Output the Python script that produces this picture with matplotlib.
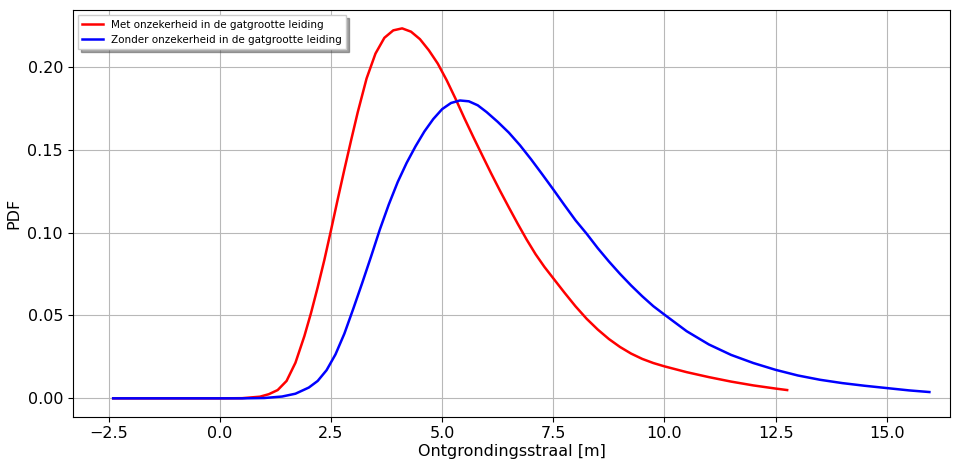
import numpy as np
from matplotlib import pyplot as plt

# values
x_met = [-2.4, -1.0, 0.0, 0.5, 0.9, 1.1, 1.3, 1.5, 1.7, 1.9, 2.05, 2.2, 2.35, 2.5,
         2.65, 2.8, 2.95, 3.1, 3.3, 3.5, 3.7, 3.9, 4.1, 4.3, 4.5, 4.7, 4.9, 5.1,
         5.3, 5.5, 5.7, 5.9, 6.1, 6.3, 6.5, 6.7, 6.9, 7.1, 7.3, 7.5, 7.75, 8.0,
         8.25, 8.5, 8.75, 9.0, 9.25, 9.5, 9.75, 10.0, 10.5, 11.0, 11.5, 12.0,
         12.5, 12.76]
y_met = [0.0, 0.0, 0.0, 0.0001, 0.001, 0.0025, 0.005, 0.0105, 0.0215, 0.0375,
         0.0515, 0.067, 0.0835, 0.1015, 0.12, 0.138, 0.1555, 0.1725, 0.193,
         0.208, 0.2175, 0.222, 0.2232, 0.2212, 0.2167, 0.21, 0.202, 0.192,
         0.1808, 0.169, 0.1577, 0.1467, 0.1358, 0.1253, 0.1152, 0.1053, 0.0958,
         0.087, 0.0793, 0.0724, 0.0638, 0.0555, 0.048, 0.0415, 0.0358, 0.031,
         0.027, 0.0238, 0.0213, 0.0193, 0.0158, 0.0128, 0.0101, 0.0078, 0.0059,
         0.005]

x_zonder = [-2.4, -1.0, 0.0, 0.5, 1.0, 1.4, 1.7, 2.0, 2.2, 2.4, 2.6, 2.8, 3.0, 3.2,
            3.4, 3.6, 3.8, 4.0, 4.2, 4.4, 4.6, 4.8, 5.0, 5.2, 5.4, 5.6, 5.8, 6.0,
            6.25, 6.5, 6.75, 7.0, 7.25, 7.5, 7.75, 8.0, 8.25, 8.5, 8.75, 9.0,
            9.25, 9.5, 9.75, 10.0, 10.5, 11.0, 11.5, 12.0, 12.5, 13.0, 13.5, 14.0,
            14.5, 15.0, 15.5, 15.96]
y_zonder = [0.0, 0.0, 0.0, 0.0, 0.0002, 0.0011, 0.0028, 0.0065, 0.0105, 0.017,
            0.0265, 0.039, 0.054, 0.0695, 0.0855, 0.102, 0.117, 0.1305, 0.142,
            0.152, 0.161, 0.1685, 0.1745, 0.1782, 0.1797, 0.1792, 0.1768, 0.1727,
            0.1668, 0.1603, 0.1527, 0.1442, 0.1352, 0.126, 0.1166, 0.1074, 0.0993,
            0.0906, 0.0826, 0.0751, 0.0681, 0.0616, 0.0556, 0.0505, 0.0405,
            0.0325, 0.0262, 0.0213, 0.0172, 0.0138, 0.0112, 0.0092, 0.0076,
            0.0062, 0.0048, 0.0038]

fig = plt.figure(figsize=(9.57, 4.61), dpi=100)
ax = fig.add_axes([0.076, 0.096, 0.917, 0.882])

ax.plot(x_met, y_met, color="red", linewidth=1.8,
        label="Met onzekerheid in de gatgrootte leiding")
ax.plot(x_zonder, y_zonder, color="blue", linewidth=1.8,
        label="Zonder onzekerheid in de gatgrootte leiding")

ax.set_xlim(-3.31, 16.43)
ax.set_ylim(-0.0111, 0.2342)
ax.set_xticks([-2.5, 0.0, 2.5, 5.0, 7.5, 10.0, 12.5, 15.0])
ax.set_yticks([0.0, 0.05, 0.10, 0.15, 0.20])
ax.yaxis.set_major_formatter(plt.FormatStrFormatter("%.2f"))
ax.tick_params(labelsize=11.5)

ax.grid(True, color="#b8b8b8", linewidth=0.8)
ax.set_xlabel("Ontgrondingsstraal [m]", fontsize=11.5, labelpad=2)
ax.set_ylabel("PDF", fontsize=11.5)
ax.legend(loc="upper left", fontsize=7.5, shadow=True, fancybox=False,
          framealpha=1, handlelength=2.0)

fig.savefig("out.png", dpi=100)
